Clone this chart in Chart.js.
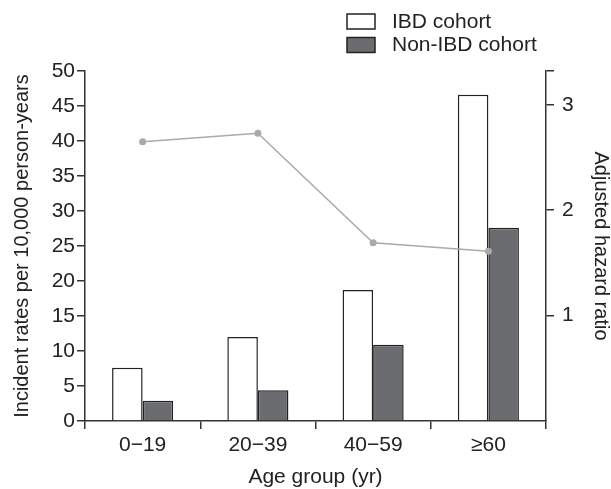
<!DOCTYPE html>
<html>
<head>
<meta charset="utf-8">
<script src="https://cdn.jsdelivr.net/npm/chart.js@4/dist/chart.umd.min.js"></script>
<style>
  body { margin: 0; background: #fff; }
</style>
</head>
<body>
<canvas id="myChart" width="611" height="489"></canvas>
<script>
// data
const ageGroups = ['0\u221219', '20\u221239', '40\u221259', '\u226560'];
const ibdRates = [7.6, 12.0, 18.7, 46.6];
const nonIbdRates = [2.9, 4.4, 10.9, 27.6];
const hazardRatios = [2.65, 2.73, 1.69, 1.61];
const leftTicks = [0, 5, 10, 15, 20, 25, 30, 35, 40, 45, 50];
const rightTicks = [1, 2, 3];
const rightMax = 3.32;

const ink = '#222';
const axisColor = '#333';
const fontFamily = '"Liberation Sans", Arial, sans-serif';

// legend drawn at top right, two stacked rows
const stackedLegend = {
  id: 'stackedLegend',
  afterDraw(chart) {
    const ctx = chart.ctx;
    ctx.save();
    let y = 14;
    chart.data.datasets.forEach(function (ds) {
      if (ds.type === 'line') return;
      ctx.fillStyle = ds.backgroundColor;
      ctx.strokeStyle = ds.borderColor;
      ctx.lineWidth = 1.5;
      ctx.fillRect(347, y, 28, 15);
      ctx.strokeRect(347, y, 28, 15);
      ctx.fillStyle = ink;
      ctx.font = '21px ' + fontFamily;
      ctx.textBaseline = 'middle';
      ctx.fillText(ds.label, 392, y + 8);
      y += 23.5;
    });
    ctx.restore();
  }
};

const ctx = document.getElementById('myChart').getContext('2d');
const myChart = new Chart(ctx, {
  type: 'bar',
  data: {
    labels: ageGroups,
    datasets: [{
      label: 'IBD cohort',
      data: ibdRates,
      backgroundColor: '#ffffff',
      borderColor: '#222',
      borderWidth: 1.5,
      yAxisID: 'y',
      order: 2
    }, {
      label: 'Non-IBD cohort',
      data: nonIbdRates,
      backgroundColor: '#6b6c70',
      borderColor: '#222',
      borderWidth: 1.5,
      yAxisID: 'y',
      order: 2
    }, {
      type: 'line',
      label: 'Adjusted hazard ratio',
      data: hazardRatios,
      borderColor: '#aaaaaa',
      backgroundColor: '#aaaaaa',
      borderWidth: 1.5,
      pointRadius: 3.5,
      pointBackgroundColor: '#aaaaaa',
      pointBorderWidth: 0,
      yAxisID: 'y1',
      order: 1
    }]
  },
  options: {
    responsive: false,
    animation: false,
    categoryPercentage: 0.53,
    barPercentage: 1.0,
    layout: { padding: { top: 71, left: 0, right: 0, bottom: 0 } },
    plugins: {
      legend: { display: false },
      tooltip: { enabled: false }
    },
    scales: {
      x: {
        grid: {
          display: true,
          drawOnChartArea: false,
          drawTicks: true,
          tickLength: 8,
          color: axisColor,
          lineWidth: 1.5,
          offset: true
        },
        border: { display: true, color: axisColor, width: 1.5 },
        ticks: { color: ink, font: { size: 21, family: fontFamily }, padding: 4, maxRotation: 0 },
        title: {
          display: true,
          text: 'Age group (yr)',
          color: ink,
          font: { size: 21, family: fontFamily },
          padding: { top: 0, bottom: -1 }
        },
        afterFit: function (scale) { scale.height = 68; }
      },
      y: {
        position: 'left',
        min: 0,
        max: 50,
        afterBuildTicks: function (scale) {
          scale.ticks = leftTicks.map(v => ({ value: v }));
        },
        grid: {
          display: true,
          drawOnChartArea: false,
          drawTicks: true,
          tickLength: 8,
          color: axisColor,
          lineWidth: 1.5
        },
        border: { display: true, color: axisColor, width: 1.5 },
        ticks: { color: ink, font: { size: 21, family: fontFamily }, padding: 2 },
        title: {
          display: true,
          text: 'Incident rates per 10,000 person-years',
          color: ink,
          font: { size: 20, family: fontFamily },
          padding: { top: 10, bottom: 0 }
        },
        afterFit: function (scale) { scale.width = 85; }
      },
      y1: {
        position: 'right',
        min: 0,
        max: rightMax,
        afterBuildTicks: function (scale) {
          let t = rightTicks.map(v => ({ value: v }));
          t.push({ value: rightMax });
          scale.ticks = t;
        },
        grid: {
          display: true,
          drawOnChartArea: false,
          drawTicks: true,
          tickLength: 8,
          color: axisColor,
          lineWidth: 1.5
        },
        border: { display: true, color: axisColor, width: 1.5 },
        ticks: {
          color: ink,
          font: { size: 21, family: fontFamily },
          padding: 8,
          callback: function (value) {
            return rightTicks.includes(value) ? String(value) : '';
          }
        },
        title: {
          display: true,
          text: 'Adjusted hazard ratio',
          color: ink,
          font: { size: 20, family: fontFamily },
          padding: { top: -2, bottom: 0 }
        },
        afterFit: function (scale) { scale.width = 65; }
      }
    }
  },
  plugins: [stackedLegend]
});
</script>
</body>
</html>
